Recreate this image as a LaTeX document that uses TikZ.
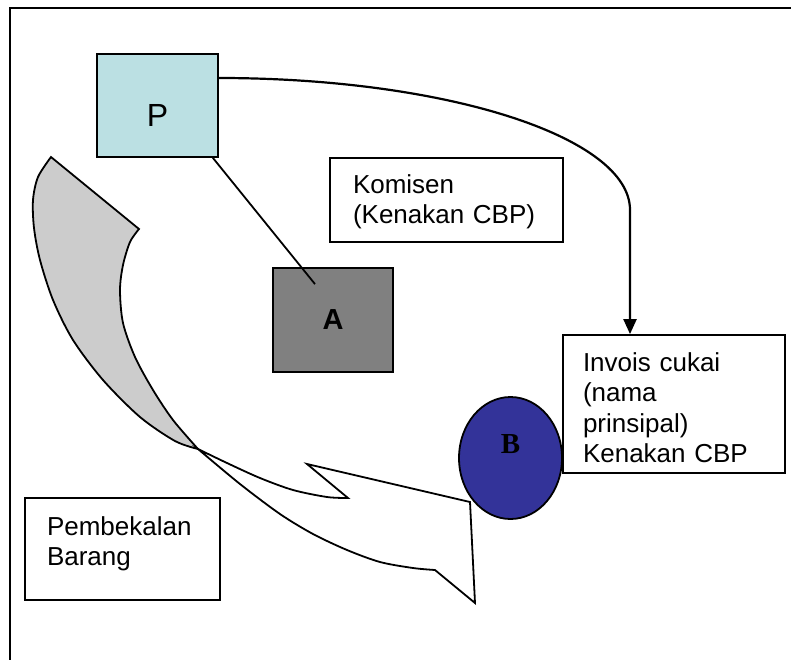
\documentclass[tikz,border=0pt]{standalone}
\usepackage{fontspec}
\setmainfont{Liberation Sans}
\newfontfamily\serifbold{Liberation Serif}
\usetikzlibrary{shapes.geometric,arrows.meta}
\definecolor{pcol}{HTML}{BBE0E3}
\definecolor{acol}{HTML}{808080}
\definecolor{bcol}{HTML}{333399}
\definecolor{ribcol}{HTML}{CCCCCC}

\begin{document}
\begin{tikzpicture}[x=1pt, y=-1pt,
		box/.style={draw, line width=1.8pt, rectangle, inner sep=0pt},
		txtbox/.style={box, fill=white, align=left, inner ysep=0pt, font=\fontsize{26}{30.5}\selectfont},
		ribbon/.style={draw, line width=1.8pt, line join=miter},
		arr/.style={line width=2.2pt, -{Triangle[length=15pt,width=13pt]}},
	]
	\useasboundingbox (0,0) rectangle (791,659);
	\draw[line width=2pt] (10,670) |- (800,8);

	% curved ribbon
	\draw[ribbon, fill=ribcol] plot[smooth] coordinates {(51,157) (38,177) (33,200) (34,228) (40,260) (53,300) (73,340) (103,380) (140,417) (175,441) (198,449)}
		-- plot[smooth] coordinates {(198,449) (173,420) (153,390) (135,357) (123,323) (120,290) (123,265) (130,242) (139,229)} -- cycle;
	\draw[ribbon, fill=white] plot[smooth] coordinates {(198,449) (227,463) (260,478) (293,490) (327,497) (348,498)}
		-- (307,464) -- (470,502) -- (475,603) -- (435,570)
		-- plot[smooth] coordinates {(435,570) (413,568) (380,562) (347,550) (313,534) (280,514) (240,484) (198,449)} -- cycle;

	\node[box, fill=pcol, minimum width=121pt, minimum height=103pt,
		label={[font=\fontsize{32}{36}\selectfont, yshift=-9.5pt]center:P}] (P) at (157.5,105.5) {};
	\node[box, fill=acol, minimum width=120pt, minimum height=104pt,
		font=\fontsize{29}{34}\selectfont\bfseries] (A) at (333,320) {A};
	\node[txtbox, minimum width=233pt, minimum height=84pt, inner xsep=23pt, text width=187pt,
		text height=22pt, text depth=36pt] (komisen) at (446.5,200) {Komisen\\(Kenakan CBP)};
	\node[txtbox, minimum width=222pt, minimum height=138pt, inner xsep=20pt, text width=182pt,
		text height=25.5pt, text depth=91.5pt] (invois) at (674,404) {Invois cukai\\(nama\\prinsipal)\\Kenakan CBP};
	\node[txtbox, minimum width=195pt, minimum height=102pt, inner xsep=22pt, text width=151pt,
		text height=19pt, text depth=47pt] (bekal) at (122.5,549) {Pembekalan\\Barang};
	\node[ellipse, draw, line width=1.8pt, fill=bcol, minimum width=103pt, minimum height=122pt, inner sep=0pt,
		label={[font=\serifbold\fontsize{29}{34}\selectfont\bfseries, yshift=14pt]center:B}] (B) at (510.5,458) {};

	\coordinate (bend) at (630,210);
	\draw[line width=1.8pt] ([xshift=-6pt]P.south east) -- ([xshift=-18pt,yshift=-17pt]A.north);
	\draw[arr] ([yshift=27.5pt]P.east) .. controls +(227,0) and +(0,-73) .. (bend) -- (bend |- invois.north);
\end{tikzpicture}
\end{document}
